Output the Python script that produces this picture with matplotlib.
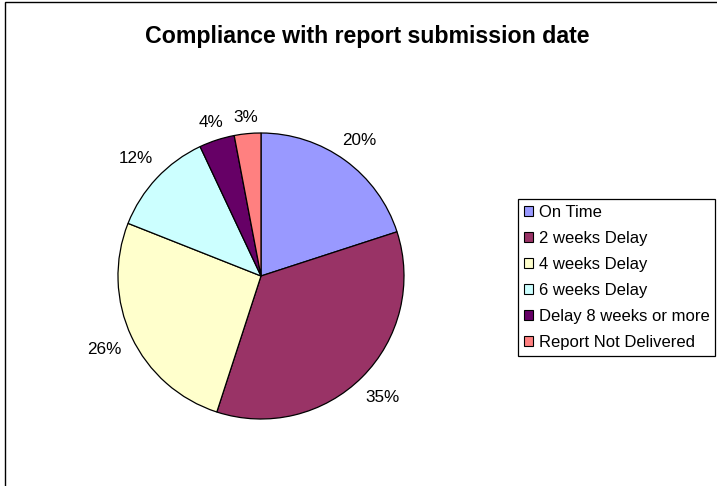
import matplotlib
matplotlib.use("Agg")
import numpy as np
import matplotlib.pyplot as plt
from matplotlib.patches import Rectangle

categories = ["On Time", "2 weeks Delay", "4 weeks Delay", "6 weeks Delay",
              "Delay 8 weeks or more", "Report Not Delivered"]
values = [20, 35, 26, 12, 4, 3]
colors = ["#9999FF", "#993366", "#FFFFCC", "#CCFFFF", "#660066", "#FF8080"]
title = "Compliance with report submission date"
label_dist = [1.17, 1.20, 1.21, 1.20, 1.13, 1.11]

plt.rcParams['font.family'] = ['Liberation Sans', 'DejaVu Sans']

W, H = 717, 486
fig = plt.figure(figsize=(W / 100, H / 100), dpi=100)

# outer chart frame (left and top visible)
fig.patches.append(Rectangle((5 / W, -0.2), 1.5, 1.2 - 2 / H,
                             transform=fig.transFigure, fill=False,
                             edgecolor="black", linewidth=1.0))

cx, cy, r = 261, 486 - 276, 143
lim = 1.25
size = 2 * lim * r
ax = fig.add_axes([(cx - size / 2) / W, (cy - size / 2) / H, size / W, size / H])
wedges, texts, autotexts = ax.pie(
    values, colors=colors, startangle=90, counterclock=False,
    autopct=lambda p: f"{p:.0f}%", pctdistance=1.18,
    wedgeprops=dict(edgecolor="black", linewidth=0.9),
    textprops=dict(fontsize=12.3, color="black"))
for w, t, d in zip(wedges, autotexts, label_dist):
    ang = np.deg2rad((w.theta1 + w.theta2) / 2)
    t.set_position((d * np.cos(ang), d * np.sin(ang)))
ax.set_xlim(-lim, lim)
ax.set_ylim(-lim, lim)
ax.set_aspect("equal")
ax.axis("off")

fig.text(367.5 / W, 1 - 36 / H, title, ha="center", va="center",
         fontsize=16.7, fontweight="bold")

leg = fig.legend(wedges, categories, loc="upper left",
                 bbox_to_anchor=(518 / W, 1 - 199 / H), borderaxespad=0,
                 fontsize=12, frameon=True, fancybox=False,
                 edgecolor="black", framealpha=1, handlelength=0.55,
                 handleheight=0.55, handletextpad=0.35, labelspacing=0.66,
                 borderpad=0.35)
leg.get_frame().set_linewidth(0.9)
for h in leg.legend_handles:
    h.set_edgecolor("black")
    h.set_linewidth(0.8)

fig.savefig("out.png", dpi=100)
